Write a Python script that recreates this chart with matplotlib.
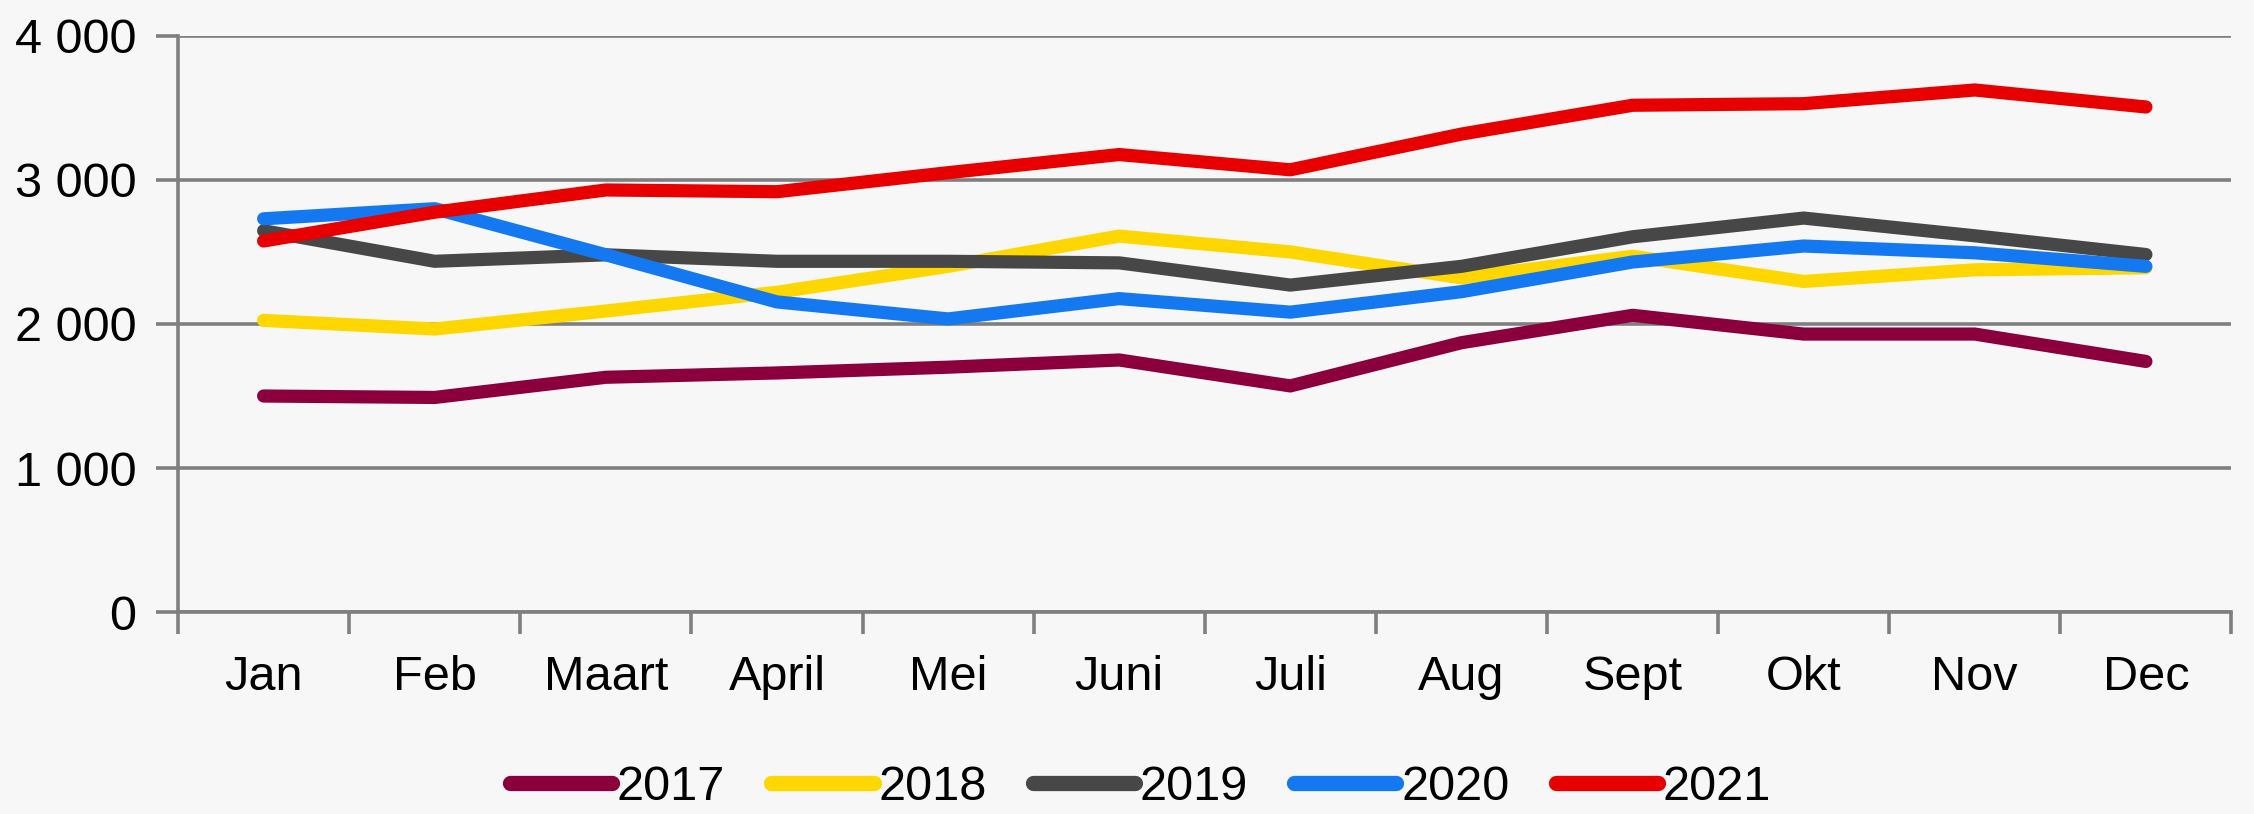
import matplotlib.pyplot as plt
from matplotlib.ticker import FuncFormatter, FixedLocator

months = ['Jan', 'Feb', 'Maart', 'April', 'Mei', 'Juni', 'Juli', 'Aug', 'Sept', 'Okt', 'Nov', 'Dec']
years = ['2017', '2018', '2019', '2020', '2021']
v2017 = [1500, 1490, 1630, 1660, 1700, 1750, 1570, 1870, 2060, 1930, 1930, 1740]
v2018 = [2025, 1965, 2090, 2220, 2400, 2610, 2500, 2320, 2470, 2295, 2376, 2390]
v2019 = [2647, 2435, 2480, 2435, 2435, 2424, 2270, 2400, 2605, 2735, 2612, 2482]
v2020 = [2730, 2800, 2480, 2153, 2035, 2176, 2082, 2224, 2430, 2541, 2494, 2400]
v2021 = [2576, 2776, 2930, 2918, 3050, 3176, 3070, 3318, 3518, 3529, 3624, 3506]
colors = ['#8B003C', '#FFD700', '#474747', '#1479F0', '#E80000']

plt.rcParams['font.family'] = ['Liberation Sans', 'DejaVu Sans']

bg = '#F7F7F7'
fig = plt.figure(figsize=(22.54, 8.14), dpi=100, facecolor=bg)
ax = fig.add_axes([0.079, 0.248, 0.911, 0.708], facecolor=bg)

x = [i + 0.5 for i in range(len(months))]
for vals, yr, c in zip([v2017, v2018, v2019, v2020, v2021], years, colors):
    ax.plot(x, vals, color=c, lw=9.5, solid_capstyle='round', solid_joinstyle='round', label=yr)

ax.set_xlim(0, 12)
ax.set_ylim(0, 4000)
ax.set_yticks([0, 1000, 2000, 3000, 4000])
ax.yaxis.set_major_formatter(FuncFormatter(lambda v, p: f'{int(v):,}'.replace(',', ' ')))
ax.grid(axis='y', color='#7F7F7F', lw=2.6)
ax.set_axisbelow(True)

ax.xaxis.set_major_locator(FixedLocator(range(13)))
ax.xaxis.set_minor_locator(FixedLocator(x))
ax.set_xticklabels([])
ax.set_xticklabels(months, minor=True)
ax.tick_params(axis='x', which='major', length=16, width=2.6, color='#7F7F7F')
ax.tick_params(axis='x', which='minor', length=0, pad=31, labelsize=35)
ax.tick_params(axis='y', length=16, width=2.6, color='#7F7F7F', labelsize=35, pad=14)

for s in ['top', 'right']:
    ax.spines[s].set_visible(False)
for s in ['left', 'bottom']:
    ax.spines[s].set_color('#7F7F7F')
    ax.spines[s].set_linewidth(2.6)

leg = fig.legend(loc='center', bbox_to_anchor=(0.506, 0.032), ncol=5, frameon=False,
                 fontsize=35, handlelength=2.1, handletextpad=0.1, columnspacing=0.95)
for h in leg.get_lines():
    h.set_linewidth(11)

plt.savefig('out.png', dpi=100, facecolor=bg)
plt.close()
